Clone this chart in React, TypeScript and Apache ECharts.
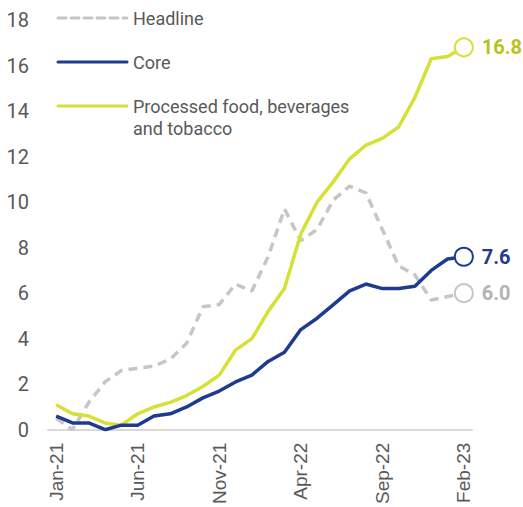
import React, { useEffect, useRef } from "react";
import * as echarts from "echarts";

const months = [
  "Jan-21", "Feb-21", "Mar-21", "Apr-21", "May-21", "Jun-21", "Jul-21", "Aug-21", "Sep-21", "Oct-21", "Nov-21", "Dec-21",
  "Jan-22", "Feb-22", "Mar-22", "Apr-22", "May-22", "Jun-22", "Jul-22", "Aug-22", "Sep-22", "Oct-22", "Nov-22", "Dec-22",
  "Jan-23", "Feb-23",
];

const headline = [0.5, 0.0, 1.2, 2.1, 2.6, 2.7, 2.8, 3.1, 3.8, 5.4, 5.5, 6.4, 6.1, 7.6, 9.7, 8.3, 8.8, 10.1, 10.7, 10.4, 8.8, 7.2, 6.8, 5.7, 5.85, 6.0];
const core = [0.6, 0.3, 0.3, 0.0, 0.2, 0.2, 0.6, 0.7, 1.0, 1.4, 1.7, 2.1, 2.4, 3.0, 3.4, 4.4, 4.9, 5.5, 6.1, 6.4, 6.2, 6.2, 6.3, 7.0, 7.5, 7.6];
const processed = [1.1, 0.7, 0.6, 0.3, 0.2, 0.7, 1.0, 1.2, 1.5, 1.9, 2.4, 3.5, 4.0, 5.2, 6.2, 8.6, 10.0, 10.9, 11.9, 12.5, 12.8, 13.3, 14.6, 16.3, 16.4, 16.8];

const seriesNames = ["Headline", "Core", "Processed food, beverages\nand tobacco"];
const lineColors = ["#c6c6c6", "#1f3b8f", "#d6e036"];
const labelColors = ["#b3b3b3", "#1f3b8f", "#b8c320"];

function withEnd(values: number[], idx: number) {
  return values.map((v, i) =>
    i === values.length - 1
      ? {
          value: v,
          symbol: "circle",
          symbolSize: 18,
          itemStyle: { color: "#ffffff", borderColor: lineColors[idx], borderWidth: 2 },
          label: {
            show: true,
            position: "right",
            distance: 8,
            formatter: (p: any) => Number(p.value).toFixed(1),
            color: labelColors[idx],
            fontFamily: "Roboto",
            fontWeight: "bold",
            fontSize: 20,
          },
        }
      : v
  );
}

export default function App() {
  const ref = useRef<HTMLDivElement>(null);
  useEffect(() => {
    if (!ref.current) return;
    document.body.style.margin = "0";
    const chart = echarts.init(ref.current, undefined, { renderer: "svg" });
    const legendYs = [18, 62, 106];
    const legendGraphics: any[] = [];
    seriesNames.forEach((name, i) => {
      legendGraphics.push({
        type: "line",
        shape: { x1: 58, y1: legendYs[i], x2: 127, y2: legendYs[i] },
        style: {
          stroke: lineColors[i],
          lineWidth: 3,
          lineDash: i === 0 ? [8, 5] : null,
          lineCap: "round",
        },
      });
      legendGraphics.push({
        type: "text",
        x: 133,
        y: legendYs[i] - 11,
        style: {
          text: name,
          fill: "#595959",
          font: "18px Roboto",
          lineHeight: 22,
          textVerticalAlign: "top",
        },
      });
    });

    chart.setOption({
      animation: false,
      grid: { left: 48, right: 51, top: 20, bottom: 77, containLabel: false },
      xAxis: {
        type: "category",
        data: months,
        boundaryGap: true,
        axisLine: { show: true, lineStyle: { color: "#d9d9d9", width: 2 } },
        axisTick: { show: false },
        axisLabel: {
          interval: 4,
          rotate: 90,
          margin: 13,
          color: "#595959",
          fontFamily: "Liberation Sans",
          fontSize: 19,
        },
      },
      yAxis: {
        type: "value",
        min: 0,
        max: 18,
        interval: 2,
        axisLine: { show: false },
        axisTick: { show: false },
        splitLine: { show: false },
        axisLabel: { margin: 19, color: "#595959", fontFamily: "Roboto", fontSize: 20 },
      },
      graphic: legendGraphics,
      series: [
        {
          name: seriesNames[0],
          type: "line",
          data: withEnd(headline, 0),
          symbol: "none",
          lineStyle: { color: lineColors[0], width: 3.5, type: [9, 6] },
          itemStyle: { color: lineColors[0] },
          z: 2,
        },
        {
          name: seriesNames[2],
          type: "line",
          data: withEnd(processed, 2),
          symbol: "none",
          lineStyle: { color: lineColors[2], width: 3.5 },
          itemStyle: { color: lineColors[2] },
          z: 3,
        },
        {
          name: seriesNames[1],
          type: "line",
          data: withEnd(core, 1),
          symbol: "none",
          lineStyle: { color: lineColors[1], width: 3.5 },
          itemStyle: { color: lineColors[1] },
          z: 4,
        },
      ],
    });
    return () => chart.dispose();
  }, []);
  return <div ref={ref} style={{ width: 523, height: 507 }} />;
}
